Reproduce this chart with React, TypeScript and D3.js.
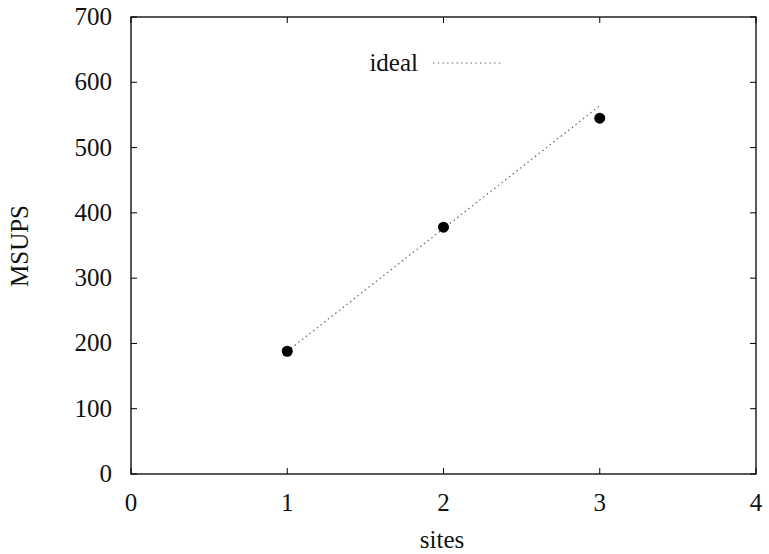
import React from "react";
import * as d3 from "d3";

const sites = [1, 2, 3];
const msups = [188, 378, 545];
const idealSites = [1, 2, 3];
const idealValues = [188, 376, 564];
const xTicks = [0, 1, 2, 3, 4];
const yTicks = [0, 100, 200, 300, 400, 500, 600, 700];

export default function App() {
  const W = 769, H = 554;
  const left = 131, right = 756, top = 17, bottom = 474;
  const x = d3.scaleLinear().domain([0, 4]).range([left, right]);
  const y = d3.scaleLinear().domain([0, 700]).range([bottom, top]);
  const line = d3.line<number>().x((_, i) => x(idealSites[i])).y((d) => y(d));
  const font = "'Liberation Serif', 'Times New Roman', serif";
  const fs = 25;
  const tl = 6;
  return (
    <svg width={W} height={H} style={{ position: "absolute", left: 0, top: 0 }} fontFamily={font}>
      <rect x={0} y={0} width={W} height={H} fill="#fff" />
      <path d={line(idealValues) || ""} fill="none" stroke="#666" strokeWidth={1.2} strokeDasharray="1.5,3.2" />
      {sites.map((s, i) => (
        <circle key={i} cx={x(s)} cy={y(msups[i])} r={5.5} fill="#000" />
      ))}
      <rect x={left} y={top} width={right - left} height={bottom - top} fill="none" stroke="#000" strokeWidth={1.3} />
      {yTicks.map((t) => (
        <g key={"y" + t}>
          <line x1={left} x2={left + tl} y1={y(t)} y2={y(t)} stroke="#000" />
          <line x1={right} x2={right - tl} y1={y(t)} y2={y(t)} stroke="#000" />
          <text x={left - 19} y={y(t) + 8} textAnchor="end" fontSize={fs} fill="#111">{t}</text>
        </g>
      ))}
      {xTicks.map((t) => (
        <g key={"x" + t}>
          <line x1={x(t)} x2={x(t)} y1={bottom} y2={bottom - tl} stroke="#000" />
          <line x1={x(t)} x2={x(t)} y1={top} y2={top + tl} stroke="#000" />
          <text x={x(t)} y={bottom + 37} textAnchor="middle" fontSize={fs} fill="#111">{t}</text>
        </g>
      ))}
      <text x={418} y={71} textAnchor="end" fontSize={fs} fill="#111">ideal</text>
      <line x1={433} x2={503} y1={63} y2={63} stroke="#666" strokeWidth={1.2} strokeDasharray="1.5,3.2" />
      <text x={442} y={548} textAnchor="middle" fontSize={fs} fill="#111">sites</text>
      <text transform={`translate(28,246) rotate(-90)`} textAnchor="middle" fontSize={fs} fill="#111">MSUPS</text>
    </svg>
  );
}
